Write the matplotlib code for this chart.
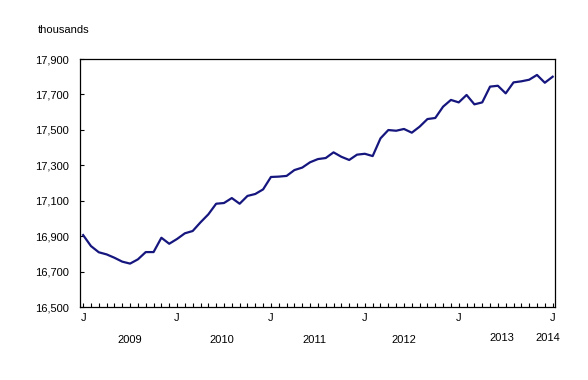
import matplotlib
matplotlib.use("Agg")
import matplotlib.pyplot as plt
from matplotlib.ticker import FixedLocator, FuncFormatter

plt.rcParams['font.family'] = ['Liberation Sans', 'DejaVu Sans']

# Monthly employment, January 2009 to January 2014 (thousands)
values = [16906, 16844, 16809, 16797, 16778, 16756, 16745, 16769, 16810, 16810,
          16891, 16857, 16884, 16916, 16929, 16978, 17023, 17083, 17087, 17115,
          17083, 17127, 17138, 17164, 17234, 17236, 17240, 17273, 17287, 17317,
          17335, 17341, 17373, 17348, 17330, 17360, 17365, 17352, 17452, 17499,
          17495, 17505, 17484, 17518, 17561, 17567, 17631, 17669, 17655, 17697,
          17644, 17655, 17744, 17749, 17706, 17768, 17774, 17783, 17810, 17766,
          17800]
months = list(range(len(values)))
month_labels = ["J", "J", "J", "J", "J", "J"]
month_label_pos = [0, 12, 24, 36, 48, 60]
years = ["2009", "2010", "2011", "2012", "2013", "2014"]
year_pos = [6.0, 17.75, 29.5, 41.0, 53.5, 59.4]
yticks = [16500, 16700, 16900, 17100, 17300, 17500, 17700, 17900]

fig = plt.figure(figsize=(5.88, 3.80), dpi=100)
ax = fig.add_axes([80/588, 1-307/380, 475/588, 248/380])

ax.plot(months, values, color='#16167f', lw=1.6, solid_joinstyle='round')

ax.set_xlim(-0.4, 60.3)
ax.set_ylim(16500, 17900)

ax.set_yticks(yticks)
ax.yaxis.set_major_formatter(FuncFormatter(lambda v, p: f"{int(v):,}"))
ax.tick_params(axis='y', direction='in', length=3, width=0.8, labelsize=8, pad=8)

ax.xaxis.set_major_locator(FixedLocator(month_label_pos))
ax.set_xticklabels(month_labels)
ax.xaxis.set_minor_locator(FixedLocator(months))
ax.tick_params(axis='x', which='both', direction='in', length=3, width=0.8,
               labelsize=8, pad=4)

for s in ax.spines.values():
    s.set_linewidth(0.9)
    s.set_color('black')

trans = ax.get_xaxis_transform()
for i, (yr, xp) in enumerate(zip(years, year_pos)):
    yoff = -0.133 if i < 4 else -0.124
    ax.text(xp, yoff, yr, transform=trans, ha='center', va='center', fontsize=8)

fig.text(38/588, 1-30/380, "thousands", ha='left', va='center', fontsize=8)

fig.savefig("out.png", dpi=100)
